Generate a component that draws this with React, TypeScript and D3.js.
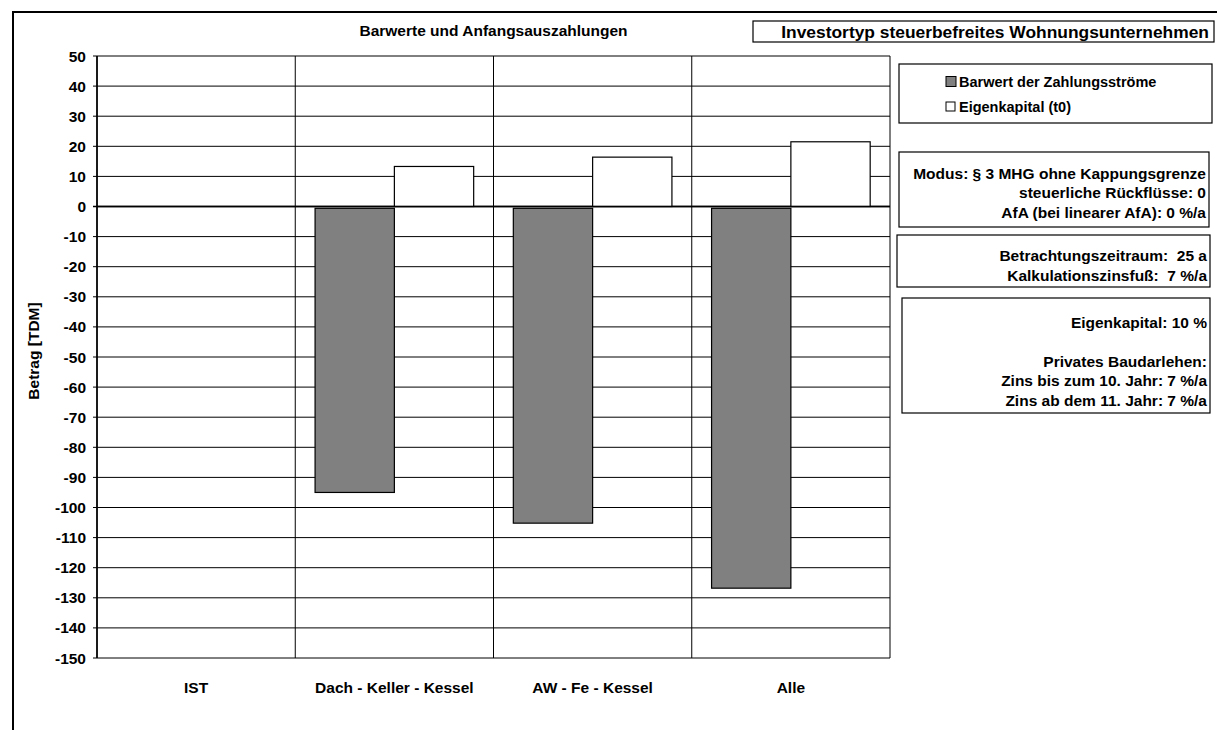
import React from "react";
import * as d3 from "d3";

const categories = ["IST", "Dach - Keller - Kessel", "AW - Fe - Kessel", "Alle"];
const seriesNames = ["Barwert der Zahlungsströme", "Eigenkapital (t0)"];
const barwert: (number | null)[] = [null, -95, -105.2, -126.8];
const eigenkapital: (number | null)[] = [null, 13.3, 16.4, 21.5];
const seriesColors = ["#808080", "#ffffff"];
const yDomain = [-150, 50];

const title = "Barwerte und Anfangsauszahlungen";
const yTitle = "Betrag [TDM]";
const investorText = "Investortyp steuerbefreites Wohnungsunternehmen";
const box2Lines = ["Modus: § 3 MHG ohne Kappungsgrenze", "steuerliche Rückflüsse: 0", "AfA (bei linearer AfA): 0 %/a"];
const box3Lines = ["Betrachtungszeitraum:  25 a", "Kalkulationszinsfuß:  7 %/a"];
const box4Lines = ["Eigenkapital: 10 %", "", "Privates Baudarlehen:", "Zins bis zum 10. Jahr: 7 %/a", "Zins ab dem 11. Jahr: 7 %/a"];

const FONT = "'Liberation Sans', Arial, Helvetica, sans-serif";

export default function App() {
  const W = 1217, H = 730;
  const plot = { left: 97, right: 890, top: 56, bottom: 658 };
  const y = d3.scaleLinear().domain(yDomain).range([plot.bottom, plot.top]);
  const x0 = d3.scaleBand<string>().domain(categories).range([plot.left, plot.right]).paddingInner(0).paddingOuter(0);
  const x1 = d3.scaleBand<string>().domain(seriesNames).range([0, x0.bandwidth()]).paddingInner(0).paddingOuter(0.25);
  const ticks = y.ticks(20);
  const seriesData = [barwert, eigenkapital];

  const fs = 15.5;
  const txt = { fontFamily: FONT, fontWeight: 700, fontSize: fs, fill: "#000" } as React.CSSProperties;

  const renderBox = (lines: string[], x: number, yTop: number, w: number, h: number, firstY: number, lh: number) => (
    <g>
      <rect x={x} y={yTop} width={w} height={h} fill="#fff" stroke="#000" strokeWidth={1.2} />
      {lines.map((l, i) => (
        <text key={i} x={x + w - 3} y={firstY + i * lh} textAnchor="end" dominantBaseline="central" style={{ ...txt, whiteSpace: "pre" }}>
          {l}
        </text>
      ))}
    </g>
  );

  return (
    <svg width={W} height={H} style={{ position: "absolute", left: 0, top: 0, background: "#fff" }}>
      <rect x={0} y={0} width={W} height={H} fill="#fff" />
      {/* outer frame */}
      <rect x={13} y={12} width={W + 20} height={H + 20} fill="none" stroke="#000" strokeWidth={2} />

      {/* title */}
      <text x={(plot.left + plot.right) / 2} y={30} textAnchor="middle" dominantBaseline="central" style={txt}>{title}</text>

      {/* gridlines */}
      {ticks.map((t) => (
        <line key={"g" + t} x1={plot.left - 4} x2={plot.right} y1={y(t)} y2={y(t)} stroke="#000" strokeWidth={t === 0 ? 1.6 : 1} />
      ))}
      {categories.map((c) => (
        <line key={"v" + c} x1={x0(c)!} x2={x0(c)!} y1={plot.top} y2={plot.bottom} stroke="#000" strokeWidth={1} />
      ))}
      <line x1={plot.right} x2={plot.right} y1={plot.top} y2={plot.bottom} stroke="#000" strokeWidth={1} />

      {/* bars */}
      {categories.map((c, ci) => (
        <g key={"b" + c} transform={`translate(${x0(c)},0)`}>
          {seriesNames.map((s, si) => {
            const v = seriesData[si][ci];
            if (v === null) return null;
            const y0 = y(0) + (v < 0 ? 1.8 : 0), yv = y(v);
            return (
              <rect key={s} x={x1(s)!} y={Math.min(y0, yv)} width={x1.bandwidth()} height={Math.abs(yv - y0)}
                fill={seriesColors[si]} stroke="#000" strokeWidth={1.2} />
            );
          })}
        </g>
      ))}
      <line x1={plot.left} x2={plot.right} y1={y(0)} y2={y(0)} stroke="#000" strokeWidth={1.6} />
      <line x1={plot.left} x2={plot.left} y1={plot.top} y2={plot.bottom} stroke="#000" strokeWidth={1.6} />

      {/* y tick labels */}
      {ticks.map((t) => (
        <text key={"t" + t} x={86} y={y(t)} textAnchor="end" dominantBaseline="central" style={txt}>{t}</text>
      ))}
      {/* category labels */}
      {categories.map((c) => (
        <text key={"c" + c} x={x0(c)! + x0.bandwidth() / 2} y={687} textAnchor="middle" dominantBaseline="central" style={txt}>{c}</text>
      ))}
      {/* y title */}
      <text transform={`translate(33,${(plot.top + plot.bottom) / 2 - 6}) rotate(-90)`} textAnchor="middle" dominantBaseline="central" style={txt}>{yTitle}</text>

      {/* investor box */}
      <rect x={753} y={21} width={461} height={21} fill="#fff" stroke="#000" strokeWidth={1.2} />
      <text x={1209} y={32} textAnchor="end" dominantBaseline="central" style={{ ...txt, fontSize: 17.4 }}>{investorText}</text>

      {/* legend */}
      <rect x={899} y={64} width={313} height={59} fill="#fff" stroke="#000" strokeWidth={1.2} />
      {seriesNames.map((s, i) => (
        <g key={"l" + s}>
          <rect x={946} y={(i === 0 ? 81.5 : 107) - 5} width={i === 0 ? 10 : 9} height={i === 0 ? 10 : 9}
            fill={seriesColors[i]} stroke="#000" strokeWidth={1} />
          <text x={959} y={i === 0 ? 82 : 107} dominantBaseline="central" style={{ ...txt, fontSize: 14.5 }}>{s}</text>
        </g>
      ))}

      {renderBox(box2Lines, 899, 152, 310, 75, 173, 19.5)}
      {renderBox(box3Lines, 897, 235, 313, 52, 255, 20)}
      {renderBox(box4Lines, 902, 298, 308, 115, 322, 19.5)}
    </svg>
  );
}
